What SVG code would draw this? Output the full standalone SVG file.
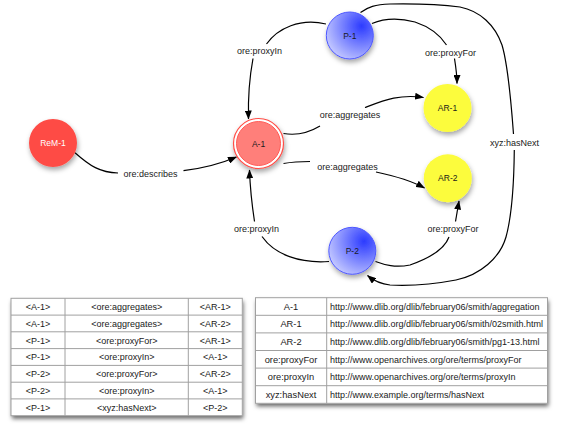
<svg xmlns="http://www.w3.org/2000/svg" width="564" height="432" viewBox="0 0 564 432">
<style>
  text { font-family: "Liberation Sans", Arial, sans-serif; fill: #1a1a1a; }
  .lbl { font-size: 9px; text-anchor: middle; }
  .nl { font-size: 8.5px; text-anchor: middle; }
  .edge { fill: none; stroke: #000; stroke-width: 1.2; }
  .t1 { font-size: 9px; text-anchor: middle; }
  .t2a { font-size: 9.3px; text-anchor: middle; }
  .t2b { font-size: 9px; }
  .grid { stroke: #a0a0a0; stroke-width: 1; fill: none; }
</style>
<defs>
  <marker id="arr" viewBox="0 0 9 7" refX="8.5" refY="3.5" markerWidth="9" markerHeight="7" orient="auto" markerUnits="userSpaceOnUse">
    <path d="M0,0 L9,3.5 L0,7 z" fill="#000"/>
  </marker>
  <filter id="sh" x="-30%" y="-30%" width="160%" height="170%">
    <feDropShadow dx="1" dy="3" stdDeviation="2.5" flood-color="#000" flood-opacity="0.35"/>
  </filter>
  <filter id="tsh" x="-5%" y="-10%" width="110%" height="125%">
    <feDropShadow dx="1" dy="3" stdDeviation="2" flood-color="#000" flood-opacity="0.6"/>
  </filter>
  <radialGradient id="blue" cx="0.75" cy="0.3" r="0.95" fx="0.75" fy="0.3">
    <stop offset="0" stop-color="#2c3bff"/>
    <stop offset="1" stop-color="#dcdfff"/>
  </radialGradient>
</defs>

<g id="connectors">
  <!-- ore:describes -->
  <path class="edge" d="M75,152.7 C90,166 100,172.5 118,173"/>
  <path class="edge" d="M183.5,170.7 C205,168 220,164 236.5,157" marker-end="url(#arr)"/>
  <text class="lbl" x="150.5" y="177">ore:describes</text>
  <!-- ore:proxyIn top -->
  <path class="edge" d="M326,24 C300,18 278,28 266.5,44"/>
  <path class="edge" d="M253,58.5 C249,80 248,100 248.5,119" marker-end="url(#arr)"/>
  <text class="lbl" x="259.5" y="54">ore:proxyIn</text>
  <!-- ore:proxyIn bottom -->
  <path class="edge" d="M329,261.5 C300,263.5 275,255 262,236.5"/>
  <path class="edge" d="M254.5,221.5 C252,205 250,185 249.5,170" marker-end="url(#arr)"/>
  <text class="lbl" x="256.5" y="231.5">ore:proxyIn</text>
  <!-- ore:aggregates top -->
  <path class="edge" d="M283.5,133.5 C298,136 310,132 320,126"/>
  <path class="edge" d="M365,107.5 C385,100 400,94 423.5,97.5" marker-end="url(#arr)"/>
  <text class="lbl" x="350" y="118">ore:aggregates</text>
  <!-- ore:aggregates bottom -->
  <path class="edge" d="M283.5,163.5 C292,162 300,161.5 310,161.5"/>
  <path class="edge" d="M376,172 C395,176 410,180 424.5,188" marker-end="url(#arr)"/>
  <text class="lbl" x="347.5" y="169.5">ore:aggregates</text>
  <!-- ore:proxyFor top -->
  <path class="edge" d="M372,23.5 C385,18 400,18 415,22 C430,27 440,35 446.5,45"/>
  <path class="edge" d="M454.5,58.5 C456,68 457,76 457,83.5" marker-end="url(#arr)"/>
  <text class="lbl" x="450.5" y="55.5">ore:proxyFor</text>
  <!-- ore:proxyFor bottom -->
  <path class="edge" d="M375.5,261.5 C385,265 395,268 410,265 C430,258 445,248 449,237"/>
  <path class="edge" d="M455.5,221.5 C457,213 458,207 459,201" marker-end="url(#arr)"/>
  <text class="lbl" x="453" y="231.5">ore:proxyFor</text>
  <!-- xyz:hasNext -->
  <path class="edge" d="M360.5,12.5 C368,7 375,4.5 390,4 C420,3.5 445,5 460,7 C480,11 495,25 502,45 C508,65 511,100 513.5,134"/>
  <path class="edge" d="M514.3,150 C514,180 512,215 506,237 C500,258 480,275 456,280 C435,284 410,286 390,285 C380,284 373,280 367.5,275.5" marker-end="url(#arr)"/>
  <text class="lbl" x="514.5" y="146">xyz:hasNext</text>
</g>

<g id="ReM-1">
  <circle cx="53" cy="143" r="24" fill="#fe4b45" filter="url(#sh)"/>
  <text class="nl" x="53" y="146" style="fill:#fff">ReM-1</text>
</g>
<g id="A-1">
  <circle cx="258.5" cy="143.5" r="25" fill="#fff" stroke="#ff4d46" stroke-width="1.2" filter="url(#sh)"/>
  <circle cx="258.5" cy="143.5" r="22" fill="#ff7f7a" stroke="#ff5a55" stroke-width="1"/>
  <text class="nl" x="258.5" y="146.5">A-1</text>
</g>
<g id="P-1">
  <circle cx="349.8" cy="35.5" r="23.5" fill="url(#blue)" stroke="#4d57ff" stroke-width="1" filter="url(#sh)"/>
  <text class="nl" x="349.8" y="38.5">P-1</text>
</g>
<g id="AR-1">
  <circle cx="447.5" cy="108" r="24" fill="#fcfc3c" filter="url(#sh)"/>
  <text class="nl" x="447.5" y="111">AR-1</text>
</g>
<g id="AR-2">
  <circle cx="447.8" cy="178.3" r="24" fill="#fcfc3c" filter="url(#sh)"/>
  <text class="nl" x="447.8" y="181.3">AR-2</text>
</g>
<g id="P-2">
  <circle cx="352.3" cy="250.8" r="23.5" fill="url(#blue)" stroke="#4d57ff" stroke-width="1" filter="url(#sh)"/>
  <text class="nl" x="352.3" y="253.8">P-2</text>
</g>

<g id="triples-table">
  <rect x="11" y="298.3" width="231.3" height="117.4" fill="#fff" filter="url(#tsh)"/>
  <rect class="grid" x="11" y="298.3" width="231.3" height="117.4"/>
  <path class="grid" d="M65,298.3 V415.7 M188.3,298.3 V415.7 M11,315.1 H242.3 M11,331.8 H242.3 M11,348.6 H242.3 M11,365.4 H242.3 M11,382.2 H242.3 M11,398.9 H242.3"/>
  <text class="t1" x="38" y="310">&lt;A-1&gt;</text>
  <text class="t1" x="126.7" y="310">&lt;ore:aggregates&gt;</text>
  <text class="t1" x="215.3" y="310">&lt;AR-1&gt;</text>
  <text class="t1" x="38" y="326.8">&lt;A-1&gt;</text>
  <text class="t1" x="126.7" y="326.8">&lt;ore:aggregates&gt;</text>
  <text class="t1" x="215.3" y="326.8">&lt;AR-2&gt;</text>
  <text class="t1" x="38" y="343.5">&lt;P-1&gt;</text>
  <text class="t1" x="126.7" y="343.5">&lt;ore:proxyFor&gt;</text>
  <text class="t1" x="215.3" y="343.5">&lt;AR-1&gt;</text>
  <text class="t1" x="38" y="360.3">&lt;P-1&gt;</text>
  <text class="t1" x="126.7" y="360.3">&lt;ore:proxyIn&gt;</text>
  <text class="t1" x="215.3" y="360.3">&lt;A-1&gt;</text>
  <text class="t1" x="38" y="377.1">&lt;P-2&gt;</text>
  <text class="t1" x="126.7" y="377.1">&lt;ore:proxyFor&gt;</text>
  <text class="t1" x="215.3" y="377.1">&lt;AR-2&gt;</text>
  <text class="t1" x="38" y="393.9">&lt;P-2&gt;</text>
  <text class="t1" x="126.7" y="393.9">&lt;ore:proxyIn&gt;</text>
  <text class="t1" x="215.3" y="393.9">&lt;A-1&gt;</text>
  <text class="t1" x="38" y="410.6">&lt;P-1&gt;</text>
  <text class="t1" x="126.7" y="410.6">&lt;xyz:hasNext&gt;</text>
  <text class="t1" x="215.3" y="410.6">&lt;P-2&gt;</text>
</g>

<g id="uri-table">
  <rect x="255.5" y="297.7" width="292" height="105.6" fill="#fff" filter="url(#tsh)"/>
  <rect class="grid" x="255.5" y="297.7" width="292" height="105.6"/>
  <path class="grid" d="M326.7,297.7 V403.3 M255.5,315.3 H547.5 M255.5,332.9 H547.5 M255.5,350.5 H547.5 M255.5,368.1 H547.5 M255.5,385.7 H547.5"/>
  <text class="t2a" x="291" y="309.8">A-1</text>
  <text class="t2b" x="330" y="309.8">http://www.dlib.org/dlib/february06/smith/aggregation</text>
  <text class="t2a" x="291" y="327.4">AR-1</text>
  <text class="t2b" x="330" y="327.4">http://www.dlib.org/dlib/february06/smith/02smith.html</text>
  <text class="t2a" x="291" y="345">AR-2</text>
  <text class="t2b" x="330" y="345">http://www.dlib.org/dlib/february06/smith/pg1-13.html</text>
  <text class="t2a" x="291" y="362.6">ore:proxyFor</text>
  <text class="t2b" x="330" y="362.6">http://www.openarchives.org/ore/terms/proxyFor</text>
  <text class="t2a" x="291" y="380.2">ore:proxyIn</text>
  <text class="t2b" x="330" y="380.2">http://www.openarchives.org/ore/terms/proxyIn</text>
  <text class="t2a" x="291" y="397.8">xyz:hasNext</text>
  <text class="t2b" x="330" y="397.8">http://www.example.org/terms/hasNext</text>
</g>
</svg>
